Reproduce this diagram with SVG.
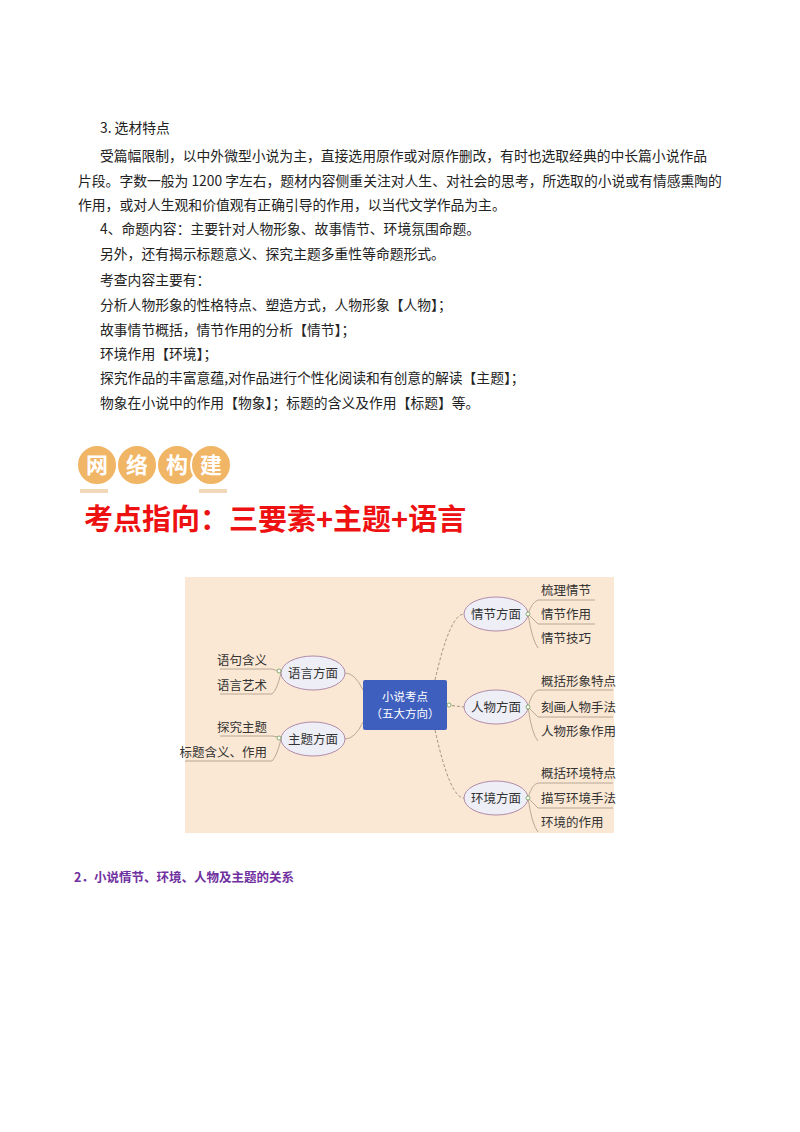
<svg xmlns="http://www.w3.org/2000/svg" width="800" height="1132" viewBox="0 0 800 1132">
<style>
.t{font-family:"Noto Sans CJK SC","Liberation Serif",serif;font-size:13.8px;fill:#222}
.m{font-family:"Noto Sans CJK SC",sans-serif;font-size:12.5px;fill:#333}
.e{fill:#eeeef6;stroke:#b08aa8;stroke-width:1}
.c{fill:none;stroke:#8a7a6a;stroke-width:0.8;stroke-dasharray:3,2}
.b{fill:none;stroke:#a89888;stroke-width:0.8}
.badge{fill:#f1b566;stroke:#fff;stroke-width:2}
</style>
<rect width="800" height="1132" fill="#fff"/>
<g id="text">
<text class="t" x="100" y="133">3. 选材特点</text>
<text class="t" x="100" y="161">受篇幅限制，以中外微型小说为主，直接选用原作或对原作删改，有时也选取经典的中长篇小说作品</text>
<text class="t" x="78" y="186">片段。字数一般为 1200 字左右，题材内容侧重关注对人生、对社会的思考，所选取的小说或有情感熏陶的</text>
<text class="t" x="78" y="210">作用，或对人生观和价值观有正确引导的作用，以当代文学作品为主。</text>
<text class="t" x="100" y="234">4、命题内容：主要针对人物形象、故事情节、环境氛围命题。</text>
<text class="t" x="100" y="259">另外，还有揭示标题意义、探究主题多重性等命题形式。</text>
<text class="t" x="100" y="285">考查内容主要有：</text>
<text class="t" x="100" y="310">分析人物形象的性格特点、塑造方式，人物形象【人物】；</text>
<text class="t" x="100" y="335">故事情节概括，情节作用的分析【情节】；</text>
<text class="t" x="100" y="359">环境作用【环境】；</text>
<text class="t" x="100" y="383">探究作品的丰富意蕴,对作品进行个性化阅读和有创意的解读【主题】；</text>
<text class="t" x="100" y="408">物象在小说中的作用【物象】；标题的含义及作用【标题】等。</text>
</g>
<g id="badge">
<circle class="badge" cx="97" cy="465" r="20"/><circle class="badge" cx="137" cy="465" r="20"/><circle class="badge" cx="177" cy="465" r="20"/><circle class="badge" cx="211" cy="465" r="20"/>
<g font-family="Noto Sans CJK SC,sans-serif" font-size="22" font-weight="bold" fill="#fff" text-anchor="middle">
<text x="97" y="473">网</text><text x="137" y="473">络</text><text x="177" y="473">构</text><text x="211" y="473">建</text></g>
<rect x="80" y="489" width="28" height="4" fill="#f0d8b8"/><rect x="199" y="489" width="28" height="4" fill="#f0d8b8"/>
</g>
<text x="84" y="530" font-family="Noto Sans CJK SC,sans-serif" font-size="29" font-weight="bold" fill="#ee1111">考点指向：三要素+主题+语言</text>
<g id="mindmap">
<rect x="185" y="577" width="429" height="256" fill="#fbe8d4"/>
<g id="connectors">
<path class="c" d="M435 680 Q450 614 464 614"/>
<path class="c" d="M447 705 L464 707"/>
<path class="c" d="M435 730 Q450 798 464 798"/>
<path class="b" d="M345 673 Q355 673 363 690"/>
<path class="b" d="M345 739 Q355 739 363 722"/>
<path class="b" d="M528 614 Q532 602 538 600 L595 600 M528 614 L538 624 L595 624 M528 614 Q532 640 538 648"/>
<path class="b" d="M528 707 Q532 692 538 690 L613 690 M528 707 L538 717 L613 717 M528 707 Q532 735 538 741"/>
<path class="b" d="M528 798 Q532 784 538 783 L613 783 M528 798 L538 808 L613 808 M528 798 Q532 825 538 832"/>
<path class="b" d="M281 673 Q277 670 272 669 L220 669 M281 673 Q277 690 272 694 L220 694"/>
<path class="b" d="M281 739 Q277 736 272 736 L220 736 M281 739 Q277 756 272 761 L185 761"/>
</g>
<g id="center"><rect x="363" y="680" width="84" height="50" rx="2" fill="#3f5fbf"/>
<text x="405" y="701" text-anchor="middle" class="m" style="fill:#fff;font-size:11.5px">小说考点</text>
<text x="405" y="718" text-anchor="middle" class="m" style="fill:#fff;font-size:11.5px">（五大方向）</text></g>
<g id="n1"><ellipse class="e" cx="496" cy="614" rx="32" ry="17"/><text x="496" y="619" text-anchor="middle" class="m">情节方面</text></g>
<g id="n2"><ellipse class="e" cx="496" cy="707" rx="32" ry="17"/><text x="496" y="712" text-anchor="middle" class="m">人物方面</text></g>
<g id="n3"><ellipse class="e" cx="496" cy="798" rx="32" ry="17"/><text x="496" y="803" text-anchor="middle" class="m">环境方面</text></g>
<g id="n4"><ellipse class="e" cx="313" cy="673" rx="32" ry="17"/><text x="313" y="678" text-anchor="middle" class="m">语言方面</text></g>
<g id="n5"><ellipse class="e" cx="313" cy="739" rx="32" ry="17"/><text x="313" y="744" text-anchor="middle" class="m">主题方面</text></g>
<g fill="#fff" stroke="#6a9a4a" stroke-width="0.8"><circle cx="528" cy="614" r="2"/><circle cx="528" cy="707" r="2"/><circle cx="528" cy="798" r="2"/><circle cx="449" cy="705" r="2"/><circle cx="279" cy="671" r="2"/><circle cx="279" cy="738" r="2"/></g>
<g>
<text x="541" y="595" class="m">梳理情节</text><text x="541" y="619" class="m">情节作用</text><text x="541" y="643" class="m">情节技巧</text>
<text x="541" y="686" class="m">概括形象特点</text><text x="541" y="712" class="m">刻画人物手法</text><text x="541" y="736" class="m">人物形象作用</text>
<text x="541" y="778" class="m">概括环境特点</text><text x="541" y="803" class="m">描写环境手法</text><text x="541" y="827" class="m">环境的作用</text>
<text x="267" y="665" text-anchor="end" class="m">语句含义</text><text x="267" y="690" text-anchor="end" class="m">语言艺术</text>
<text x="267" y="732" text-anchor="end" class="m">探究主题</text><text x="267" y="757" text-anchor="end" class="m">标题含义、作用</text>
</g>
</g>
<text x="74" y="882" font-family="Noto Sans CJK SC,sans-serif" font-size="12.5" font-weight="bold" fill="#7030a0">2．小说情节、环境、人物及主题的关系</text>
</svg>
